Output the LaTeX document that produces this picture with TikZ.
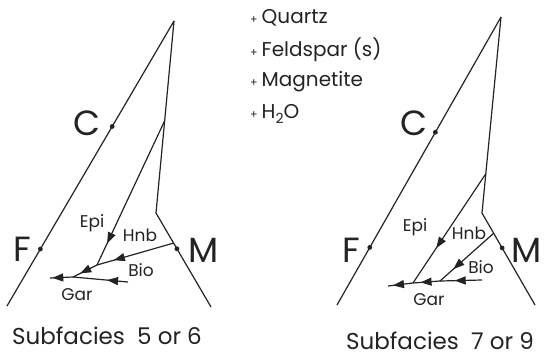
\documentclass[tikz,border=0pt]{standalone}
\usepackage{fontspec}
\setmainfont{Poppins}
\usepackage{tikz}
\usetikzlibrary{calc,arrows.meta,decorations.markings}
\definecolor{ink}{RGB}{35,35,35}
\newcommand{\plusmark}{{\fontsize{11}{11}\selectfont +}\hspace{4pt}}
\tikzset{
  phase/.style={ink,line width=1.2pt},
  flow/.style={phase,postaction={decorate},
    decoration={markings,mark=at position #1 with {\arrow{Triangle[length=11pt,width=8pt]}}}},
  pt/.style={fill=ink},
  lbl/.style={font=\fontsize{17}{17}\selectfont,text=ink,inner sep=0pt},
  corner/.style={font=\fontsize{35}{35}\selectfont,text=ink,inner sep=0pt},
  caption/.style={font=\fontsize{23}{23}\selectfont,text=ink,inner sep=0pt},
  assemb/.style={font=\fontsize{20}{20}\selectfont,text=ink,inner sep=0pt,anchor=west},
}

\begin{document}
\begin{tikzpicture}[x=1pt,y=-1pt]
\useasboundingbox (0,0) rectangle (544,357);
% subfacies 5 or 6
\coordinate (A1) at (174,21);
\coordinate (Z1) at (7,306);
\coordinate (K1) at (156,213);
\coordinate (W1) at (211,307);
\coordinate (E1) at ($(A1)!0.52!(K1)$);
\coordinate (B1) at ($(K1)!0.32!(W1)$);
\coordinate (J1) at (97,265);
\coordinate (G1) at (73,277);
\coordinate (R1) at (128,282);
\coordinate (L1) at (50,278);
\draw[phase] (A1) -- (Z1);
\draw[phase,line join=miter] (A1) -- (K1) -- (W1);
\draw[flow=0.85] (E1) -- (J1);
\draw[flow=0.78] (B1) -- (J1);
\draw[flow=0.7] (J1) -- (G1);
\draw[flow=0.38] (R1) -- (G1);
\draw[flow=0.9] (G1) -- (L1);
\fill[pt] ($(A1)!0.37!(Z1)$) circle (2.4pt);
\fill[pt] ($(A1)!0.80!(Z1)$) circle (2.4pt);
\fill[pt] ($(K1)!0.38!(W1)$) circle (2.4pt);
\node[corner] (c1) at (87,123) {C};
\node[corner] (f1) at (22,249) {F};
\node[corner] (m1) at (204,250) {M};
\node[lbl] (epi1) at (92,223) {Epi};
\node[lbl] (hnb1) at (140,235) {Hnb};
\node[lbl] (bio1) at (141,270) {Bio};
\node[lbl] (gar1) at (77,295) {Gar};
\node[caption] (cap1) at (107,336) {Subfacies\ \ 5 or 6};
% subfacies 7 or 9
\coordinate (A2) at (501,17);
\coordinate (Z2) at (337,305);
\coordinate (K2) at (482,213);
\coordinate (W2) at (535,305);
\coordinate (E2) at ($(A2)!0.80!(K2)$);
\coordinate (B2) at ($(K2)!0.22!(W2)$);
\coordinate (J2e) at (413,283);
\coordinate (J2b) at (440,281);
\coordinate (R2) at (482,280);
\coordinate (L2) at (388,286);
\draw[phase] (A2) -- (Z2);
\draw[phase,line join=miter] (A2) -- (K2) -- (W2);
\draw[flow=0.68] (E2) -- (J2e);
\draw[flow=0.75] (B2) -- (J2b);
\draw[flow=0.65] (R2) -- (J2b);
\draw[flow=0.72] (J2b) -- (J2e);
\draw[flow=0.8] (J2e) -- (L2);
\fill[pt] ($(A2)!0.40!(Z2)$) circle (2.4pt);
\fill[pt] ($(A2)!0.80!(Z2)$) circle (2.4pt);
\fill[pt] ($(K2)!0.38!(W2)$) circle (2.4pt);
\node[corner] (c2) at (414,123) {C};
\node[corner] (f2) at (351,250) {F};
\node[corner] (m2) at (527,250) {M};
\node[lbl] (epi2) at (415,227) {Epi};
\node[lbl] (hnb2) at (469,233) {Hnb};
\node[lbl] (bio2) at (481,267) {Bio};
\node[lbl] (gar2) at (429,300) {Gar};
\node[caption] (cap2) at (440,341) {Subfacies\ \ 7 or 9};
% extra phases
\node[assemb] (qz) at (250,18) {\plusmark Quartz};
\node[assemb] (fs) at (250,50) {\plusmark Feldspar (s)};
\node[assemb] (mt) at (250,82) {\plusmark Magnetite};
\node[assemb] (wt) at (250,114) {\plusmark H\raisebox{-0.45ex}{\fontsize{14}{14}\selectfont 2}O};
\end{tikzpicture}
\end{document}
